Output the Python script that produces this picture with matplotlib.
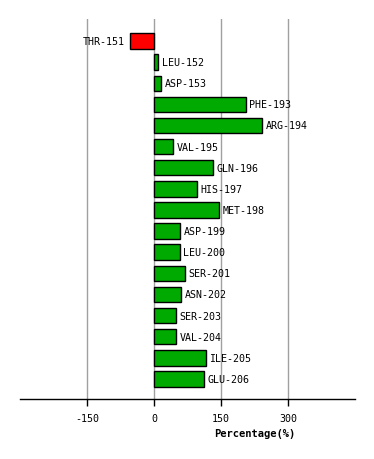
import matplotlib
matplotlib.use('Agg')
import matplotlib.pyplot as plt

# residues and their percentage values
residues = ['THR-151', 'LEU-152', 'ASP-153', 'PHE-193', 'ARG-194', 'VAL-195',
            'GLN-196', 'HIS-197', 'MET-198', 'ASP-199', 'LEU-200', 'SER-201',
            'ASN-202', 'SER-203', 'VAL-204', 'ILE-205', 'GLU-206']
values = [-54, 10, 16, 206, 242, 43, 132, 97, 145, 58, 58, 70,
          61, 50, 50, 116, 112]
ticks = [-150, 0, 150, 300]

plt.rcParams['font.family'] = ['DejaVu Sans Mono']

fig = plt.figure(figsize=(3.74, 4.60), dpi=100)
ax = fig.add_axes([20 / 374, 60 / 460, 335 / 374, 380 / 460])

colors = ['#ff0000' if v < 0 else '#00aa00' for v in values]
ypos = list(range(len(residues)))
ax.barh(ypos, values, height=0.73, color=colors, edgecolor='black',
        linewidth=1, zorder=3)

# labels beside bar ends
for y, v, name in zip(ypos, values, residues):
    if v < 0:
        ax.annotate(name, (v, y), xytext=(-4, 0), textcoords='offset points',
                    ha='right', va='center', fontsize=7.2, zorder=4)
    else:
        ax.annotate(name, (v, y), xytext=(2.5, 0), textcoords='offset points',
                    ha='left', va='center', fontsize=7.2, zorder=4)

ax.set_xlim(-300, 450)
ax.set_ylim(len(residues) - 1 + 0.95, -1.04)
ax.set_xticks(ticks)
ax.set_xticklabels([str(t) for t in ticks], fontsize=7.2)
ax.set_yticks([])
ax.grid(axis='x', color='#a0a0a0', linewidth=1, zorder=0)
for s in ['top', 'left', 'right']:
    ax.spines[s].set_visible(False)
ax.spines['bottom'].set_linewidth(1)
ax.tick_params(axis='x', length=5, width=1, pad=5)

fig.text(255 / 374, 1 - 434 / 460, 'Percentage(%)', ha='center', va='center',
         fontsize=7.5, fontweight='bold')

fig.savefig('out.png', dpi=100)
